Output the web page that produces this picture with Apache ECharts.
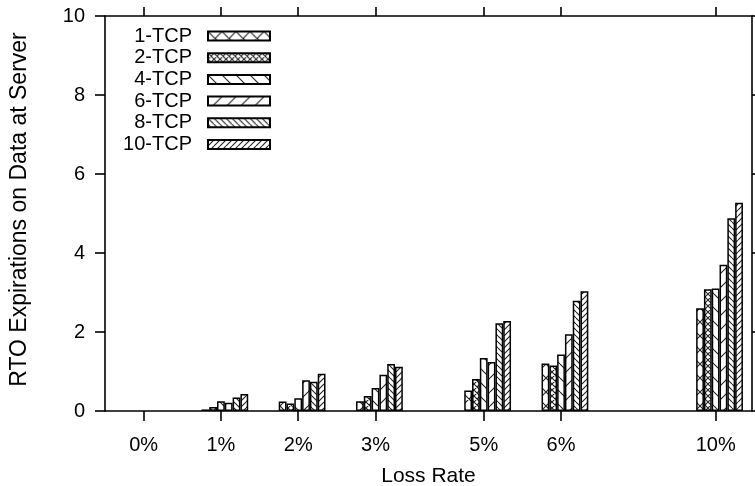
<!DOCTYPE html>
<html>
<head>
<meta charset="utf-8">
<script src="https://cdn.jsdelivr.net/npm/echarts@6/dist/echarts.min.js"></script>
<style>
  html, body { margin: 0; padding: 0; background: #fff; }
  #chart { width: 755px; height: 486px; }
</style>
</head>
<body>
<div id="chart"></div>
<script>
// Loss-rate groups and the RTO expiration counts for each number of TCP connections
const lossRates = ['0%', '1%', '2%', '3%', '5%', '6%', '10%'];
const seriesNames = ['1-TCP', '2-TCP', '4-TCP', '6-TCP', '8-TCP', '10-TCP'];
const tcp1  = [0, 0.04, 0.24, 0.25, 0.52, 1.20, 2.60];
const tcp2  = [0, 0.10, 0.19, 0.38, 0.81, 1.15, 3.08];
const tcp4  = [0, 0.25, 0.32, 0.58, 1.34, 1.43, 3.10];
const tcp6  = [0, 0.21, 0.78, 0.92, 1.24, 1.94, 3.70];
const tcp8  = [0, 0.34, 0.74, 1.19, 2.22, 2.79, 4.88];
const tcp10 = [0, 0.43, 0.94, 1.12, 2.28, 3.03, 5.27];
const yTicks = [0, 2, 4, 6, 8, 10];

// Layout: where each group sits along the x axis (groups are not evenly spaced)
const groupSlot = [0, 1, 2, 3, 4.4, 5.4, 7.4];
const xMin = -0.5, xMax = 7.87;
const groupShift = 0.05;   // bar groups sit slightly right of their tick

const FONT = '"Liberation Sans", Arial, Helvetica, sans-serif';

// Hatch fills, drawn on small tiles and repeated
function hatch(size, dirs) {
  const c = document.createElement('canvas');
  c.width = size; c.height = size;
  const g = c.getContext('2d');
  g.fillStyle = '#fff';
  g.fillRect(0, 0, size, size);
  g.strokeStyle = '#222';
  g.lineWidth = 1.1;
  g.beginPath();
  for (const d of dirs) {
    for (let k = -1; k <= 1; k++) {
      if (d === 'back') { g.moveTo(k * size, 0); g.lineTo(k * size + size, size); }
      else { g.moveTo(k * size, size); g.lineTo(k * size + size, 0); }
    }
  }
  g.stroke();
  return { image: c, repeat: 'repeat' };
}
const fills = [
  hatch(14, ['back', 'fwd']),
  hatch(6, ['back', 'fwd']),
  hatch(14, ['back']),
  hatch(14, ['fwd']),
  hatch(6, ['back']),
  hatch(6, ['fwd'])
];

const values = [tcp1, tcp2, tcp4, tcp6, tcp8, tcp10];
const series = seriesNames.map((name, s) => ({
  name: name,
  type: 'bar',
  xAxisIndex: 2,
  yAxisIndex: 0,
  barWidth: 7.8,
  barGap: '0%',
  itemStyle: { color: fills[s], borderColor: '#000', borderWidth: 1.5 },
  emphasis: { disabled: true },
  // an empty bar leaves no outline on the baseline
  data: values[s].map((v, i) => v > 0
    ? [groupSlot[i], v]
    : { value: [groupSlot[i], v], itemStyle: { borderWidth: 0 } })
}));

const axisLineStyle = { color: '#000', width: 1.6 };
const chart = echarts.init(document.getElementById('chart'), null, { renderer: 'canvas' });
chart.setOption({
  animation: false,
  backgroundColor: '#fff',
  textStyle: { fontFamily: FONT },
  grid: { left: 105, right: 3, top: 16, bottom: 75, outerBoundsMode: 'none', containLabel: false },
  legend: {
    orient: 'vertical',
    align: 'right',
    right: 484,
    top: 26,
    padding: 0,
    itemGap: 1.7,
    itemWidth: 62,
    itemHeight: 9,
    icon: 'rect',
    selectedMode: false,
    textStyle: { fontFamily: FONT, fontSize: 20, color: '#000', lineHeight: 20, padding: [0, 11, 0, 0] },
    data: seriesNames
  },
  xAxis: [
    {
      type: 'value', min: xMin, max: xMax, position: 'bottom',
      name: 'Loss Rate', nameLocation: 'middle', nameGap: 55,
      nameTextStyle: { fontFamily: FONT, fontSize: 21, color: '#000' },
      axisLine: { show: true, onZero: false, lineStyle: axisLineStyle },
      axisTick: { show: true, inside: false, length: 10, customValues: groupSlot, lineStyle: axisLineStyle },
      axisLabel: {
        customValues: groupSlot, margin: 24, fontFamily: FONT, fontSize: 20, color: '#000',
        formatter: v => lossRates[groupSlot.indexOf(v)] || ''
      },
      splitLine: { show: false }
    },
    {
      type: 'value', min: xMin, max: xMax, position: 'top',
      axisLine: { show: true, onZero: false, lineStyle: axisLineStyle },
      axisTick: { show: true, inside: false, length: 9, customValues: groupSlot, lineStyle: axisLineStyle },
      axisLabel: { show: false },
      splitLine: { show: false }
    },
    {
      type: 'value', min: xMin - groupShift, max: xMax - groupShift, show: false,
      splitLine: { show: false }
    }
  ],
  yAxis: [
    {
      type: 'value', min: 0, max: 10, interval: 2, position: 'left',
      name: 'RTO Expirations on Data at Server', nameLocation: 'middle', nameGap: 74, nameRotate: 90,
      nameTextStyle: { fontFamily: FONT, fontSize: 23, color: '#000', padding: [0, 0, 0, 8] },
      axisLine: { show: true, onZero: false, lineStyle: axisLineStyle },
      axisTick: { show: true, inside: false, length: 10, lineStyle: axisLineStyle },
      axisLabel: {
        margin: 20, fontFamily: FONT, fontSize: 20, color: '#000',
        formatter: v => (yTicks.indexOf(v) >= 0 ? String(v) : '')
      },
      splitLine: { show: false }
    },
    {
      type: 'value', min: 0, max: 10, interval: 2, position: 'right',
      axisLine: { show: true, onZero: false, lineStyle: axisLineStyle },
      axisTick: { show: true, inside: false, length: 10, lineStyle: axisLineStyle },
      axisLabel: { show: false },
      splitLine: { show: false }
    }
  ],
  series: series
});
</script>
</body>
</html>
